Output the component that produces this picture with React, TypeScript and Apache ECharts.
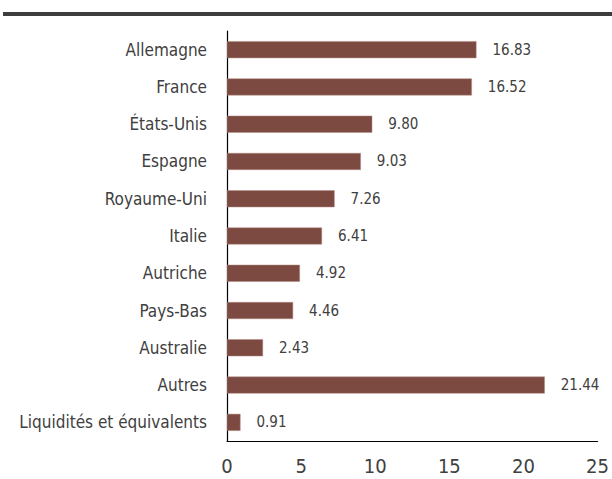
import React, { useEffect, useRef } from "react";
import * as echarts from "echarts";

const categories = [
  "Allemagne",
  "France",
  "États-Unis",
  "Espagne",
  "Royaume-Uni",
  "Italie",
  "Autriche",
  "Pays-Bas",
  "Australie",
  "Autres",
  "Liquidités et équivalents",
];
const values = [16.83, 16.52, 9.8, 9.03, 7.26, 6.41, 4.92, 4.46, 2.43, 21.44, 0.91];
const xTicks = [0, 5, 10, 15, 20, 25];

const FONT = "'Liberation Sans Narrow', 'DejaVu Sans Condensed', 'Roboto Condensed', sans-serif";

export default function App() {
  const ref = useRef<HTMLDivElement>(null);
  useEffect(() => {
    if (!ref.current) return;
    const chart = echarts.init(ref.current, undefined, { renderer: "svg" });
    chart.setOption({
      animation: false,
      grid: { left: 227, right: 11, top: 31, bottom: 38, containLabel: false },
      graphic: [
        {
          type: "rect",
          shape: { x: 3, y: 12, width: 609, height: 4 },
          style: { fill: "#3d3d3d" },
        },
      ],
      xAxis: {
        type: "value",
        min: xTicks[0],
        max: xTicks[xTicks.length - 1],
        interval: 5,
        axisLine: { show: true, lineStyle: { color: "#000", width: 1.2 } },
        axisTick: { show: false },
        splitLine: { show: false },
        axisLabel: {
          color: "#404040",
          fontFamily: FONT,
          fontSize: 20,
          margin: 15,
        },
      },
      yAxis: {
        type: "category",
        inverse: true,
        data: categories,
        axisLine: { show: true, lineStyle: { color: "#000", width: 1.2 } },
        axisTick: { show: false },
        axisLabel: {
          color: "#404040",
          fontFamily: FONT,
          fontSize: 17,
          margin: 20,
        },
      },
      series: [
        {
          type: "bar",
          data: values,
          barWidth: 17,
          itemStyle: { color: "#7d4a41", borderColor: "#b08a84", borderWidth: 0.5 },
          label: {
            show: true,
            position: "right",
            distance: 16,
            color: "#404040",
            fontFamily: FONT,
            fontSize: 15,
            formatter: (p: any) => p.value.toFixed(2),
          },
        },
      ],
    });
    return () => chart.dispose();
  }, []);
  return <div ref={ref} style={{ width: 612, height: 479, position: "absolute", left: 0, top: 0 }} />;
}
